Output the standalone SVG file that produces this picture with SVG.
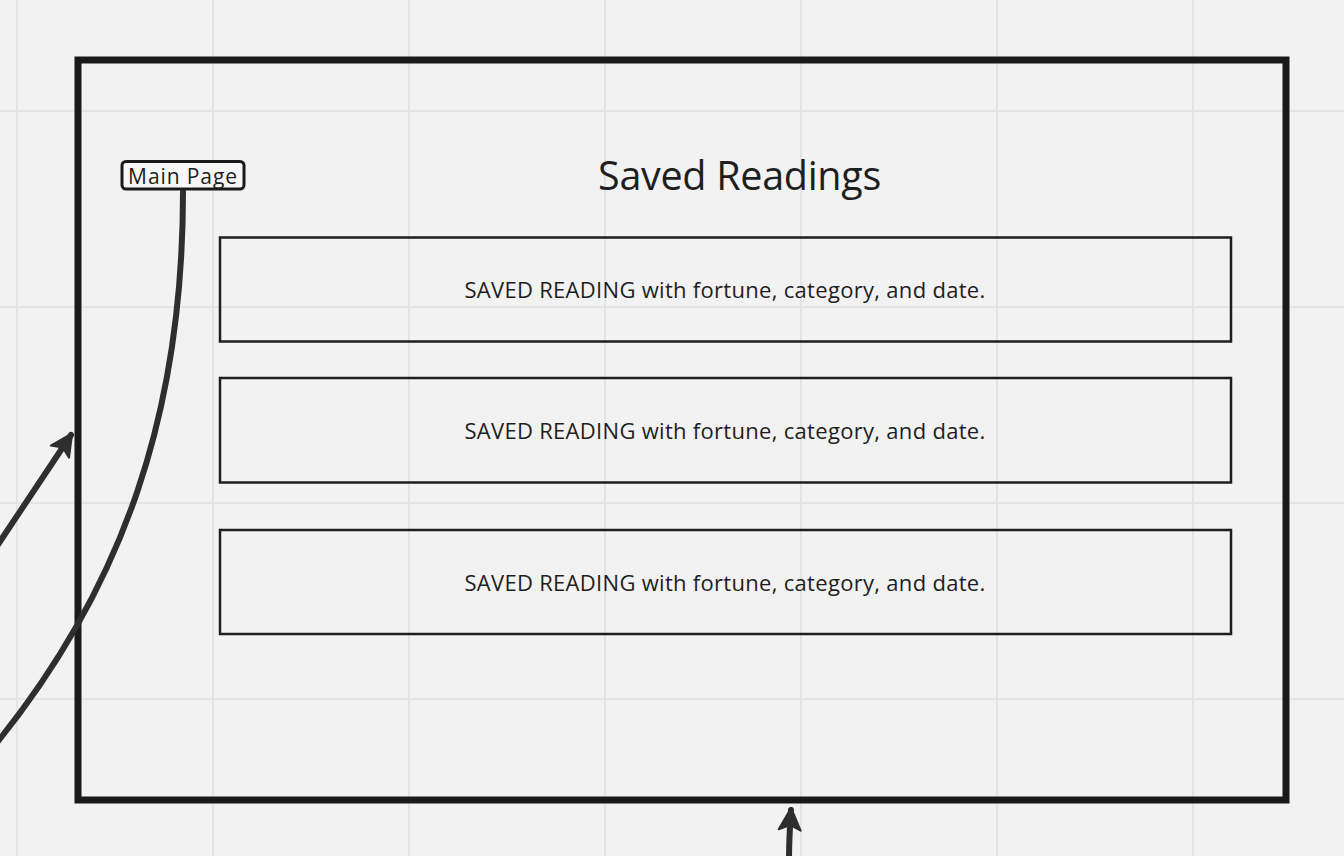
<svg xmlns="http://www.w3.org/2000/svg" width="1344" height="856" viewBox="0 0 1344 856">
  <style>
    .grid { stroke: #e4e4e4; stroke-width: 2; }
    .frame { fill: none; stroke: #1a1a1a; stroke-width: 7; }
    .card { fill: none; stroke: #1e1e1e; stroke-width: 2.5; }
    .label { font-family: "Open Sans", "Noto Sans", sans-serif; fill: #1e1e1e; text-anchor: middle; }
    .conn { fill: none; stroke: #2e2e2e; stroke-width: 6; stroke-linecap: round; }
  </style>
  <defs>
    <marker id="arrow" markerUnits="userSpaceOnUse" markerWidth="40" markerHeight="40" refX="28" refY="15" orient="auto" viewBox="0 0 40 30">
      <path d="M30,15 L8,4 L13,15 L8,26 Z" fill="#2e2e2e" stroke="#2e2e2e" stroke-width="2" stroke-linejoin="round"/>
    </marker>
  </defs>
  <rect width="1344" height="856" fill="#f2f2f2"/>
  <g id="grid">
    <line class="grid" x1="17" y1="0" x2="17" y2="856"/>
    <line class="grid" x1="213" y1="0" x2="213" y2="856"/>
    <line class="grid" x1="409" y1="0" x2="409" y2="856"/>
    <line class="grid" x1="605" y1="0" x2="605" y2="856"/>
    <line class="grid" x1="801" y1="0" x2="801" y2="856"/>
    <line class="grid" x1="997" y1="0" x2="997" y2="856"/>
    <line class="grid" x1="1193" y1="0" x2="1193" y2="856"/>
    <line class="grid" x1="0" y1="111" x2="1344" y2="111"/>
    <line class="grid" x1="0" y1="307" x2="1344" y2="307"/>
    <line class="grid" x1="0" y1="503" x2="1344" y2="503"/>
    <line class="grid" x1="0" y1="699" x2="1344" y2="699"/>
  </g>
  <g id="frame">
    <rect class="frame" x="78" y="60" width="1208" height="740"/>
  </g>
  <g id="title">
    <text class="label" x="739.5" y="190" font-size="39.5" letter-spacing="-0.3">Saved Readings</text>
  </g>
  <g id="connectors">
    <path class="conn" d="M183,192 C183,410 125,585 -5,745"/>
    <path class="conn" d="M-3,546 L71,435" marker-end="url(#arrow)"/>
    <path class="conn" d="M789,860 C789,840 790,825 791,810" marker-end="url(#arrow)"/>
  </g>
  <g id="main-page">
    <rect x="122" y="161.5" width="122" height="27.5" rx="4" fill="#f7f7f7" stroke="#1a1a1a" stroke-width="3"/>
    <text class="label" x="183" y="183.5" font-size="21" letter-spacing="0.9">Main Page</text>
  </g>
  <g id="reading-1">
    <rect class="card" x="220" y="237.5" width="1011" height="104"/>
    <text class="label" x="725" y="297.5" font-size="22" letter-spacing="0.3">SAVED READING with fortune, category, and date.</text>
  </g>
  <g id="reading-2">
    <rect class="card" x="220" y="378" width="1011" height="104.5"/>
    <text class="label" x="725" y="438.5" font-size="22" letter-spacing="0.3">SAVED READING with fortune, category, and date.</text>
  </g>
  <g id="reading-3">
    <rect class="card" x="220" y="530" width="1011" height="104"/>
    <text class="label" x="725" y="590.5" font-size="22" letter-spacing="0.3">SAVED READING with fortune, category, and date.</text>
  </g>
</svg>
